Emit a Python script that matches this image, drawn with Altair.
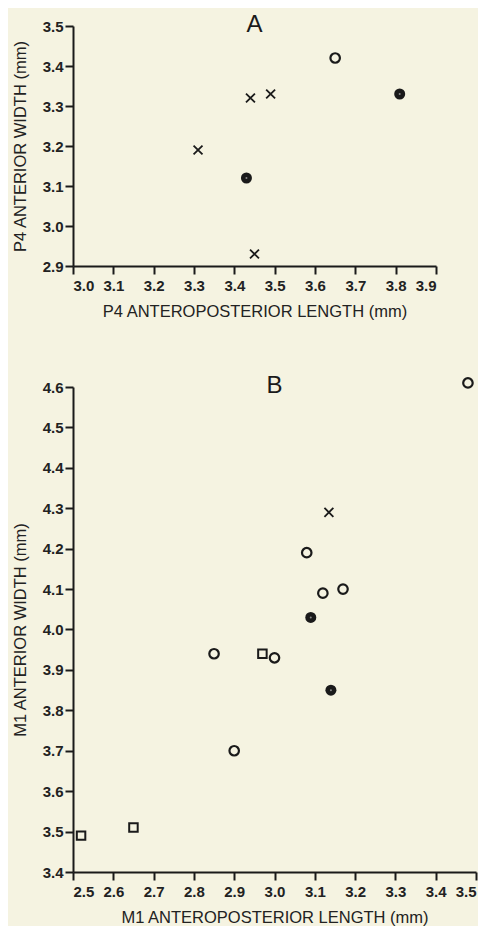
import altair as alt
import pandas as pd

# Panel A data: P4
a_len = [3.44, 3.49, 3.31, 3.45, 3.65, 3.81, 3.43]
a_wid = [3.32, 3.33, 3.19, 2.93, 3.42, 3.33, 3.12]
a_sym = ["x", "x", "x", "x", "open", "filled", "filled"]

# Panel B data: M1
b_len = [3.48, 3.135, 3.08, 3.12, 3.17, 3.09, 2.85, 2.97, 3.00, 3.14, 2.90, 2.65, 2.52]
b_wid = [4.61, 4.29, 4.19, 4.09, 4.10, 4.03, 3.94, 3.94, 3.93, 3.85, 3.70, 3.51, 3.49]
b_sym = ["open", "x", "open", "open", "open", "filled", "open", "square", "open",
         "filled", "open", "square", "square"]

a_ticks_x = [3.0, 3.1, 3.2, 3.3, 3.4, 3.5, 3.6, 3.7, 3.8, 3.9]
a_ticks_y = [2.9, 3.0, 3.1, 3.2, 3.3, 3.4, 3.5]
b_ticks_x = [2.5, 2.6, 2.7, 2.8, 2.9, 3.0, 3.1, 3.2, 3.3, 3.4, 3.5]
b_ticks_y = [3.4, 3.5, 3.6, 3.7, 3.8, 3.9, 4.0, 4.1, 4.2, 4.3, 4.4, 4.5, 4.6]

dfa = pd.DataFrame({"len": a_len, "wid": a_wid, "sym": a_sym})
dfb = pd.DataFrame({"len": b_len, "wid": b_wid, "sym": b_sym})

XPATH = "M-1,-1L1,1M-1,1L1,-1"
INK = "#1a1a1a"


def panel(df, xdom, ydom, xt, yt, xtitle, ytitle, letter, w, h):
    x = alt.X("len:Q", scale=alt.Scale(domain=xdom, nice=False, zero=False),
              axis=alt.Axis(values=xt, format=".1f", title=xtitle))
    y = alt.Y("wid:Q", scale=alt.Scale(domain=ydom, nice=False, zero=False),
              axis=alt.Axis(values=yt, format=".1f", title=ytitle))
    base = alt.Chart(df).encode(x=x, y=y)
    opn = base.transform_filter(alt.datum.sym == "open").mark_point(
        shape="circle", filled=False, size=90, strokeWidth=2.2, color=INK, opacity=1)
    fil = base.transform_filter(alt.datum.sym == "filled").mark_point(
        shape="circle", filled=True, size=121, color=INK, opacity=1)
    dot = base.transform_filter(alt.datum.sym == "filled").mark_point(
        shape="circle", filled=True, size=4, color="#888888", opacity=1)
    xs = base.transform_filter(alt.datum.sym == "x").mark_point(
        shape=XPATH, filled=False, size=80, strokeWidth=1.8, color=INK, opacity=1)
    sq = base.transform_filter(alt.datum.sym == "square").mark_point(
        shape="square", filled=False, size=72, strokeWidth=2, color=INK, opacity=1)
    lab = alt.Chart(pd.DataFrame({"t": [letter]})).mark_text(
        font="Liberation Sans", fontSize=24, color=INK, baseline="middle", align="center"
    ).encode(text="t:N", x=alt.value(w / 2), y=alt.value(-1))
    return alt.layer(opn, fil, dot, xs, sq, lab).properties(width=w, height=h)


pa = panel(dfa, [3.0, 3.9], [2.9, 3.5], a_ticks_x, a_ticks_y,
           "P4 ANTEROPOSTERIOR  LENGTH (mm)", "P4 ANTERIOR WIDTH (mm)", "A", 363, 240)
pb = panel(dfb, [2.5, 3.5], [3.4, 4.6], b_ticks_x, b_ticks_y,
           "M1 ANTEROPOSTERIOR  LENGTH (mm)", "M1 ANTERIOR WIDTH  (mm)", "B", 403, 485)

chart = alt.vconcat(pa, pb, spacing=53).properties(
    background="#f5f3e1",
    padding={"left": 4, "top": 5, "right": 0, "bottom": 0},
).configure_view(stroke=None).configure_axis(
    grid=False,
    domainColor=INK, domainWidth=2,
    tickColor=INK, tickWidth=2, tickSize=8,
    labelFont="Liberation Sans", labelFontSize=15, labelFontWeight="bold",
    labelColor="#222222",
    titleFont="Liberation Sans", titleFontSize=16.5, titleFontWeight="normal",
    titleColor="#222222",
).configure_axisX(
    labelPadding=4, titlePadding=10,
).configure_axisY(
    labelPadding=2, titlePadding=14,
).configure_concat(spacing=53)

chart.save("out.html", embed_options={"renderer": "svg", "actions": False})
